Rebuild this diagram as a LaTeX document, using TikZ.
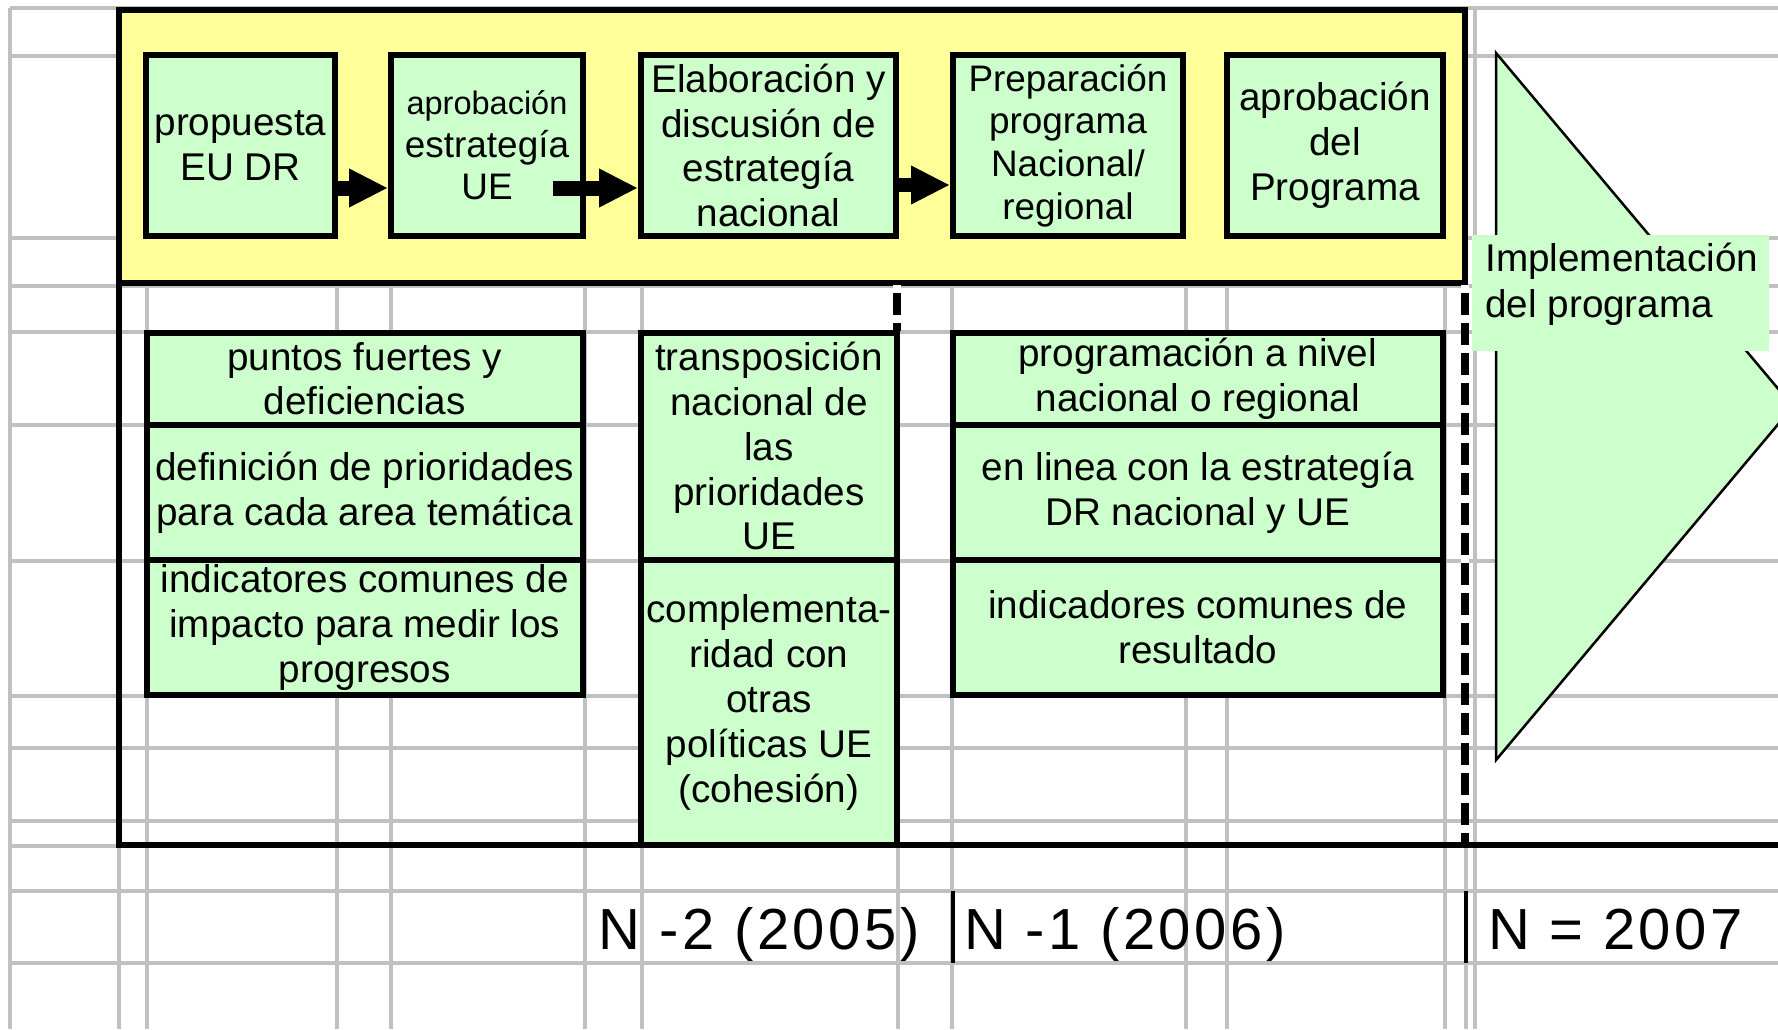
\documentclass[tikz,border=0pt]{standalone}
\usepackage{fontspec}
\setmainfont{Liberation Sans}
\newfontfamily\yearfam[LetterSpace=6]{Liberation Sans}
\usetikzlibrary{arrows.meta,calc}
\definecolor{gridgray}{RGB}{192,192,192}
\definecolor{phaseyellow}{RGB}{255,255,153}
\definecolor{boxgreen}{RGB}{204,255,204}
\newcommand\bxfont{\fontsize{22}{25.5}\selectfont}
\tikzset{
  gridline/.style={draw=gridgray, line width=0.065cm},
  tbox/.style={draw=black, fill=boxgreen, line width=0.12cm, inner sep=0pt, align=center, font=\bxfont, text=black},
  phasebox/.style={draw=black, fill=phaseyellow, line width=0.12cm, inner sep=0pt},
  frameline/.style={draw=black, line width=0.12cm, line join=miter},
  blockarrow/.style={draw=black, line width=0.3cm, -{Triangle[length=0.78cm,width=0.72cm]}},
  dashunder/.style={draw=white, line width=0.16cm},
  phasedash/.style={draw=black, line width=0.16cm, dash pattern=on 0.44cm off 0.16cm, dash phase=0.44cm},
  yearsep/.style={draw=black, line width=0.07cm},
  yearlabel/.style={font=\yearfam\fontsize{33}{38}\selectfont, inner sep=0pt, anchor=base west, text=black},
}
\begin{document}
\begin{tikzpicture}[x=0.02cm, y=-0.02cm]
\useasboundingbox (0,0) rectangle (1778,1029);
\begin{scope}
\clip (0,0) rectangle (1778,1029);
% spreadsheet grid
\foreach \gx in {10,119,147,337,391,585,642,898,952,1186,1227,1445,1466,1475}
  \draw[gridline] (\gx,8) -- (\gx,1029);
\foreach \gy in {8,56,238,286,332,425,561,696,748,821,846,891,963}
  \draw[gridline] (10,\gy) -- (1778,\gy);

% yellow phase box and outer frame
\node[phasebox, minimum width=26.92cm, minimum height=5.48cm] (phase) at (792,146.5) {};
\draw[frameline] (119,283.5) -- (119,845) -- (1778,845);

% implementation triangle
\draw[fill=boxgreen, line width=0.05cm, line join=miter] (1496,53) -- (1496,760) -- (1793,406.5) -- cycle;
\fill[boxgreen] (1472,235) rectangle (1769,351);
\node[anchor=west, align=left, inner sep=0pt, font=\fontsize{22}{26.2}\selectfont] (impl) at (1485,284) {Implementación\\del programa};

% top process boxes
\node[tbox, minimum width=3.78cm, minimum height=3.62cm] (b1) at (240.5,145.5) {propuesta\\EU DR};
\node[tbox, minimum width=3.84cm, minimum height=3.62cm, font=\fontsize{21}{24.2}\selectfont] (b2) at (487,145.5) {{\fontsize{18.5}{24.2}\selectfont aprobación}\\estrategía\\UE};
\node[tbox, minimum width=5.10cm, minimum height=3.62cm] (b3) at (768.5,145.5) {Elaboración y\\discusión de\\estrategía\\nacional};
\node[tbox, minimum width=4.60cm, minimum height=3.62cm, font=\fontsize{21}{24.3}\selectfont] (b4) at (1068,145.5) {Preparación\\programa\\Nacional/\\regional};
\node[tbox, minimum width=4.32cm, minimum height=3.62cm] (b5) at (1335,145.5) {aprobación\\del\\Programa};

% arrows between process boxes
\draw[blockarrow] ([yshift=-0.85cm]b1.east) -- ([yshift=-0.85cm]b2.west);
\draw[blockarrow] ([xshift=-0.65cm,yshift=-0.85cm]b2.east) -- ([yshift=-0.85cm]b3.west);
\draw[blockarrow] ([yshift=-0.79cm]b3.east) -- ([yshift=-0.79cm]b4.west);

% left column
\node[tbox, minimum width=8.73cm, minimum height=1.85cm] (l1) at (364.75,378.75) {puntos fuertes y\\deficiencias};
\node[tbox, minimum width=8.73cm, minimum height=2.70cm] (l2) at (364.75,492.5) {definición de prioridades\\para cada area temática};
\node[tbox, minimum width=8.73cm, minimum height=2.70cm] (l3) at (364.75,627.5) {indicatores comunes de\\impacto para medir los\\progresos};

% middle column
\node[tbox, minimum width=5.12cm, minimum height=4.55cm] (m1) at (769,446.25) {transposición\\nacional de\\las\\prioridades\\UE};
\node[tbox, minimum width=5.12cm, minimum height=5.70cm] (m2) at (769,702.5) {complementa-\\ridad con\\otras\\políticas UE\\(cohesión)};

% right column
\node[tbox, minimum width=9.81cm, minimum height=1.85cm] (r1) at (1197.75,378.75) {programación a nivel\\nacional o regional};
\node[tbox, minimum width=9.81cm, minimum height=2.70cm] (r2) at (1197.75,492.5) {en linea con la estrategía\\DR nacional y UE};
\node[tbox, minimum width=9.81cm, minimum height=2.70cm] (r3) at (1197.75,627.5) {indicadores comunes de\\resultado};

% dashed year boundaries
\draw[dashunder] (897,285) -- (897,331);
\draw[phasedash] (897,285) -- (897,331);
\draw[dashunder] (1465,285) -- (1465,845);
\draw[phasedash] (1465,285) -- (1465,845);

% year labels
\draw[yearsep] (953,891) -- (953,963);
\draw[yearsep] (1466,891) -- (1466,963);
\node[yearlabel] (y2005) at (598,949) {N -2 (2005)};
\node[yearlabel] (y2006) at (964,949) {N -1 (2006)};
\node[yearlabel] (y2007) at (1488,949) {N = 2007};
\end{scope}
\end{tikzpicture}
\end{document}
